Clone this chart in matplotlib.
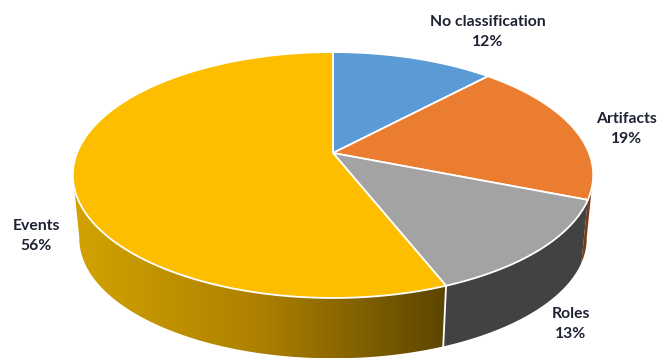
import numpy as np
import matplotlib
matplotlib.use("Agg")
import matplotlib.pyplot as plt
from matplotlib.colors import LinearSegmentedColormap
from matplotlib.patches import Polygon

# Slices, clockwise from 12 o'clock
categories = ["No classification", "Artifacts", "Roles", "Events"]
shares = [12, 19, 13, 56]
top_colors = ["#5B9BD5", "#EB7D30", "#A3A3A3", "#FDBE00"]
wall_colors = ["#2F5B85", "#7A3A10", "#424242", None]

# Projection of the tilted disc into pixels
CX, CY = 333.0, 153.0
RX, RY, PERSP = 256.0, 119.0, 0.179
DEPTH, SHRINK = 64.0, 0.975
# Part of the rim facing the viewer, in degrees
FRONT_START, FRONT_END = 100.0, 260.0

gold = LinearSegmentedColormap.from_list("gold", ["#D2A300", "#AD8000", "#5C4500"])


def project(angle, scale=1.0, drop=0.0):
    # angle in degrees, clockwise from the top of the disc
    a = np.radians(angle)
    u, v = np.sin(a), np.cos(a)
    w = 1 + PERSP * v
    return CX + scale * RX * u / w, CY + drop - scale * RY * v / w


def arc(start, end, scale=1.0, drop=0.0):
    n = max(int(abs(end - start)) * 2, 2)
    return np.column_stack(project(np.linspace(start, end, n), scale, drop))


fig = plt.figure(figsize=(6.71, 3.58), dpi=100)
ax = fig.add_axes([0, 0, 1, 1])
ax.set_xlim(0, 671)
ax.set_ylim(358, 0)
ax.axis("off")

edges = np.cumsum([0] + shares) * 3.6

# Side walls, only the front of the rim shows
for i in range(len(shares)):
    start = max(edges[i], FRONT_START)
    end = min(edges[i + 1], FRONT_END)
    if start >= end:
        continue
    pts = np.vstack([arc(start, end), arc(end, start, SHRINK, DEPTH)])
    if wall_colors[i] is None:
        wall = Polygon(pts, closed=True, facecolor="none", edgecolor="none")
        ax.add_patch(wall)
        img = ax.imshow(np.linspace(0, 1, 256)[None, :], cmap=gold, aspect="auto",
                        extent=(pts[:, 0].min(), pts[:, 0].max(), 358, 0), zorder=1)
        img.set_clip_path(wall)
    else:
        ax.add_patch(Polygon(pts, closed=True, facecolor=wall_colors[i],
                             edgecolor="none", zorder=1))

# White seam between the Events and Roles walls
seam = edges[3]
x0, y0 = project(seam)
x1, y1 = project(seam, SHRINK, DEPTH)
ax.plot([x0, x1], [y0, y1], color="white", lw=1.3, zorder=2)

# Top face
for i in range(len(shares)):
    pts = np.vstack([[CX, CY], arc(edges[i], edges[i + 1])])
    ax.add_patch(Polygon(pts, closed=True, facecolor=top_colors[i],
                         edgecolor="white", lw=1.3, joinstyle="round", zorder=3))

# Labels
label_xy = [(488, 32), (627, 129), (571, 324), (36, 236)]
for name, share, (lx, ly) in zip(categories, shares, label_xy):
    ax.text(lx, ly, f"{name}\n{share}%", ha="center", va="center",
            family="Lato", fontsize=11.3, fontweight="bold",
            color="#1E2233", linespacing=1.6, zorder=4)

ax.set_xlim(0, 671)
ax.set_ylim(358, 0)
fig.savefig("out.png", dpi=100, facecolor="white")
